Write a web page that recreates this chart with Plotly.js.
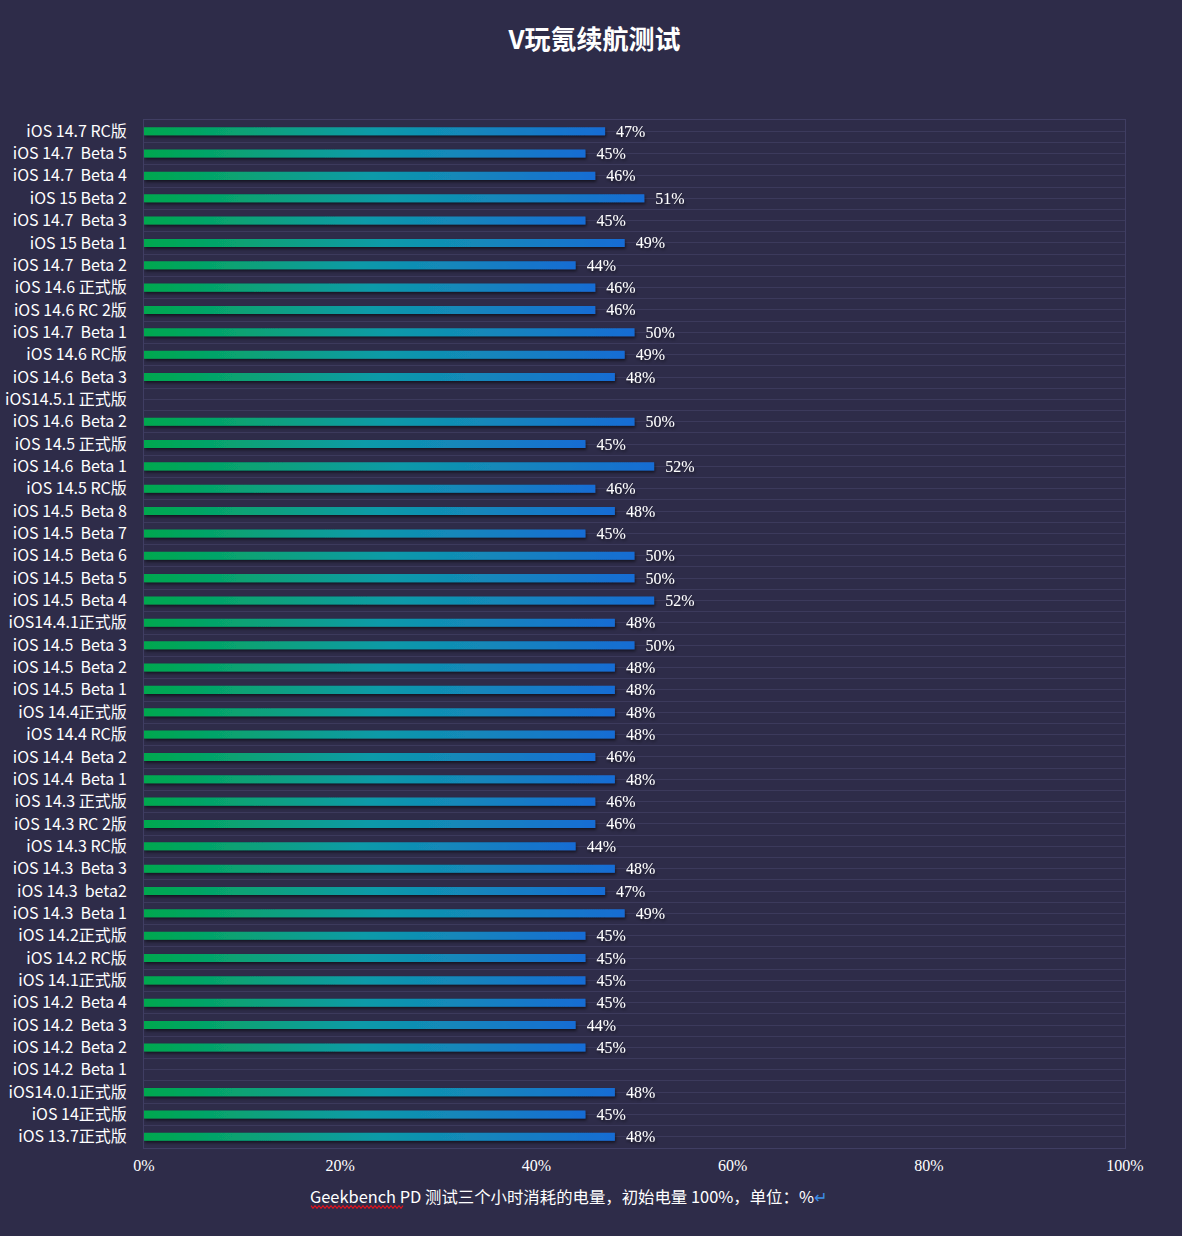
<!DOCTYPE html>
<html>
<head>
<meta charset="utf-8">
<script src="https://cdn.plot.ly/plotly-3.0.1.min.js"></script>
<style>
html,body{margin:0;padding:0;background:#2e2c49;}
#chart{width:1182px;height:1236px;}
</style>
</head>
<body>
<div id="chart"></div>
<script>
const categories = [
  "iOS 14.7 RC版", "iOS 14.7  Beta 5", "iOS 14.7  Beta 4", "iOS 15 Beta 2", "iOS 14.7  Beta 3",
  "iOS 15 Beta 1", "iOS 14.7  Beta 2", "iOS 14.6 正式版", "iOS 14.6 RC 2版", "iOS 14.7  Beta 1",
  "iOS 14.6 RC版", "iOS 14.6  Beta 3", "iOS14.5.1 正式版", "iOS 14.6  Beta 2", "iOS 14.5 正式版",
  "iOS 14.6  Beta 1", "iOS 14.5 RC版", "iOS 14.5  Beta 8", "iOS 14.5  Beta 7", "iOS 14.5  Beta 6",
  "iOS 14.5  Beta 5", "iOS 14.5  Beta 4", "iOS14.4.1正式版", "iOS 14.5  Beta 3", "iOS 14.5  Beta 2",
  "iOS 14.5  Beta 1", "iOS 14.4正式版", "iOS 14.4 RC版", "iOS 14.4  Beta 2", "iOS 14.4  Beta 1",
  "iOS 14.3 正式版", "iOS 14.3 RC 2版", "iOS 14.3 RC版", "iOS 14.3  Beta 3", "iOS 14.3  beta2",
  "iOS 14.3  Beta 1", "iOS 14.2正式版", "iOS 14.2 RC版", "iOS 14.1正式版", "iOS 14.2  Beta 4",
  "iOS 14.2  Beta 3", "iOS 14.2  Beta 2", "iOS 14.2  Beta 1", "iOS14.0.1正式版", "iOS 14正式版",
  "iOS 13.7正式版"
];
const values = [
  47, 45, 46, 51, 45,
  49, 44, 46, 46, 50,
  49, 48, null, 50, 45,
  52, 46, 48, 45, 50,
  50, 52, 48, 50, 48,
  48, 48, 48, 46, 48,
  46, 46, 44, 48, 47,
  49, 45, 45, 45, 45,
  44, 45, null, 48, 45,
  48
];
const xTickVals = [0, 20, 40, 60, 80, 100];
const xTickText = ["0%", "20%", "40%", "60%", "80%", "100%"];

const titleText = "V玩氪续航测试";
const axisNote = "Geekbench PD 测试三个小时消耗的电量，初始电量 100%，单位：%";

const positions = categories.map((c, i) => i);
const labels = categories.map(c => c.replace(/ /g, "\u00a0"));

const BG = "#2e2c49";
const GRID = "#3c3a5c";
const LINE = "#403e63";

// pixel -> paper helpers for the decorative spell-check squiggle
const PL = 144, PW = 981, PB = 1148, PH = 1028;
const px2x = p => (p - PL) / PW;
const py2y = p => (PB - p) / PH;
let squig = "";
for (let i = 0, px = 311; px <= 403; i++, px += 2) {
  const py = 1207 + (i % 2 === 0 ? -1.3 : 1.3);
  squig += (i === 0 ? "M" : "L") + px2x(px).toFixed(5) + "," + py2y(py).toFixed(5) + " ";
}

const trace = {
  type: "bar",
  orientation: "h",
  x: values,
  y: positions,
  width: 0.36,
  marker: {color: "#0c8fb8", line: {width: 0}},
  texttemplate: "\u00a0\u00a0%{x}%",
  textposition: "outside",
  constraintext: "none",
  cliponaxis: false,
  textfont: {family: "Liberation Serif, Times New Roman, serif", size: 16, color: "#ffffff"},
  hoverinfo: "skip"
};

const layout = {
  width: 1182,
  height: 1236,
  paper_bgcolor: BG,
  plot_bgcolor: BG,
  margin: {l: 144, r: 57, t: 120, b: 88},
  showlegend: false,
  title: {
    text: titleText,
    font: {family: "Noto Sans CJK SC, sans-serif", size: 26, color: "#ffffff", weight: 700},
    x: 0.503, xref: "container", xanchor: "center",
    y: 1 - 40 / 1236, yref: "container", yanchor: "middle"
  },
  xaxis: {
    range: [0, 100],
    tickmode: "array",
    tickvals: xTickVals,
    ticktext: xTickText,
    showgrid: false,
    zeroline: false,
    showline: true,
    mirror: true,
    linecolor: LINE,
    linewidth: 1,
    ticks: "",
    ticklabelstandoff: 3,
    tickfont: {family: "Liberation Serif, Times New Roman, serif", size: 16, color: "#ffffff"},
    fixedrange: true
  },
  yaxis: {
    range: [categories.length - 0.5, -0.5],
    tickmode: "array",
    tickvals: positions,
    ticktext: labels,
    showgrid: true,
    gridcolor: GRID,
    gridwidth: 1,
    minor: {tickmode: "linear", tick0: 0.5, dtick: 1, showgrid: true, gridcolor: GRID, gridwidth: 1, ticks: ""},
    zeroline: false,
    showline: true,
    mirror: true,
    linecolor: LINE,
    linewidth: 1,
    ticks: "",
    ticklabelstandoff: 13,
    tickfont: {family: "Noto Sans CJK SC, sans-serif", size: 16, color: "#ffffff"},
    fixedrange: true
  },
  annotations: [{
    text: axisNote + '<span style="color:#3d8fe6">↵</span>',
    xref: "paper", yref: "paper",
    x: px2x(568), y: py2y(1196),
    xanchor: "center", yanchor: "middle",
    showarrow: false,
    font: {family: "Noto Sans CJK SC, sans-serif", size: 16.4, color: "#ffffff"}
  }],
  shapes: [{
    type: "path",
    xref: "paper", yref: "paper",
    path: squig.trim(),
    line: {color: "#e0141e", width: 1.2},
    fillcolor: "rgba(0,0,0,0)"
  }]
};

Plotly.newPlot("chart", [trace], layout, {displayModeBar: false, staticPlot: true}).then(gd => {
  const svg = gd.querySelector("svg.main-svg");
  const ns = "http://www.w3.org/2000/svg";
  let defs = svg.querySelector("defs");
  if (!defs) { defs = document.createElementNS(ns, "defs"); svg.insertBefore(defs, svg.firstChild); }
  const grad = document.createElementNS(ns, "linearGradient");
  grad.setAttribute("id", "barGrad");
  grad.setAttribute("x1", "0"); grad.setAttribute("y1", "0");
  grad.setAttribute("x2", "1"); grad.setAttribute("y2", "0");
  [["0", "#02a84e"], ["0.5", "#0f9aa8"], ["1", "#176cd4"]].forEach(([o, c]) => {
    const s = document.createElementNS(ns, "stop");
    s.setAttribute("offset", o); s.setAttribute("stop-color", c);
    grad.appendChild(s);
  });
  defs.appendChild(grad);
  const filt = document.createElementNS(ns, "filter");
  filt.setAttribute("id", "shadow");
  filt.setAttribute("x", "-10%"); filt.setAttribute("y", "-60%");
  filt.setAttribute("width", "120%"); filt.setAttribute("height", "260%");
  const ds = document.createElementNS(ns, "feDropShadow");
  ds.setAttribute("dx", "1"); ds.setAttribute("dy", "2");
  ds.setAttribute("stdDeviation", "1.6");
  ds.setAttribute("flood-color", "#000000");
  ds.setAttribute("flood-opacity", "0.55");
  filt.appendChild(ds);
  defs.appendChild(filt);
  gd.querySelectorAll(".bars .point path").forEach(p => {
    p.style.fill = "url(#barGrad)";
    p.setAttribute("filter", "url(#shadow)");
  });
  gd.querySelectorAll(".bars .point text").forEach(t => {
    t.setAttribute("filter", "url(#shadow)");
  });
});
</script>
</body>
</html>
